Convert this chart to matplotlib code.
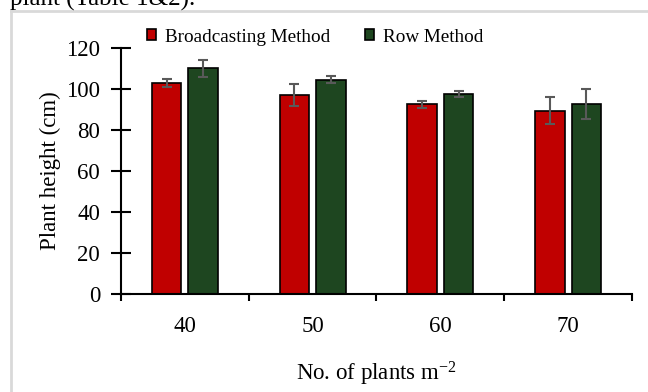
import numpy as np
import matplotlib
matplotlib.use('Agg')
import matplotlib.pyplot as plt
from matplotlib.lines import Line2D
from matplotlib.patches import Patch

plt.rcParams['font.family'] = ['Liberation Serif', 'DejaVu Serif']
plt.rcParams['mathtext.fontset'] = 'custom'
plt.rcParams['mathtext.rm'] = 'Liberation Serif'
plt.rcParams['mathtext.it'] = 'Liberation Serif:italic'

# 每平方米株数
densities = ['40', '50', '60', '70']
# 撒播 / 条播 株高均值及误差
broadcast_height = [103, 97, 92.5, 89.5]
broadcast_err = [2.0, 5.5, 1.7, 6.7]
row_height = [110, 104.5, 97.5, 92.7]
row_err = [4.2, 1.8, 1.3, 7.3]

red = '#C00000'
green = '#1E4620'
err_color = '#595959'

fig = plt.figure(figsize=(6.48, 3.92), dpi=100)
ax = fig.add_axes([0.1867, 0.25, 0.7886, 0.6276])

x = np.arange(len(densities))
w = 0.23
off = 0.143
ekw = dict(ecolor=err_color, elinewidth=1.5, capsize=3.5, capthick=1.5)
ax.bar(x - off, broadcast_height, w, color=red, edgecolor='black', linewidth=1.2,
       yerr=broadcast_err, error_kw=ekw)
ax.bar(x + off, row_height, w, color=green, edgecolor='black', linewidth=1.2,
       yerr=row_err, error_kw=ekw)

ax.set_xlim(-0.5, len(densities) - 0.5)
ax.set_ylim(0, 120)
ax.set_yticks(range(0, 121, 20))
ax.tick_params(axis='y', direction='inout', length=14, width=1.5, labelsize=16.5, pad=8)

# 主刻度放在类别分界处，类别标签用次刻度
ax.set_xticks(np.arange(-0.5, len(densities), 1.0))
ax.set_xticklabels([])
ax.tick_params(axis='x', which='major', direction='out', length=5, width=1.5)
ax.set_xticks(x, minor=True)
ax.set_xticklabels(densities, minor=True)
ax.tick_params(axis='x', which='minor', length=0, labelsize=16.5, pad=16)

for s in ['top', 'right']:
    ax.spines[s].set_visible(False)
ax.spines['left'].set_linewidth(1.5)
ax.spines['bottom'].set_linewidth(1.5)

ax.set_ylabel('Plant height (cm)', fontsize=16.5, labelpad=4)
ax.set_xlabel('No. of plants m$^{-2}$', fontsize=16.5, labelpad=16)

handles = [Patch(facecolor=red, edgecolor='black', linewidth=1.2),
           Patch(facecolor=green, edgecolor='black', linewidth=1.2)]
fig.legend(handles, ['Broadcasting Method', 'Row Method'], loc='center',
           bbox_to_anchor=(0.486, 0.905), ncol=2, frameon=False, fontsize=13.8,
           handlelength=0.5, handleheight=0.5, handletextpad=0.45, columnspacing=1.8)

# 文档截图上方残留的文字和灰色边框
fig.text(0.015, 1 - 6 / 392, 'plant (Table 1&2).', fontsize=18, va='baseline', ha='left')
fig.add_artist(Line2D([11 / 648, 11 / 648], [0, 1 - 11 / 392], color='#D9D9D9', lw=2))
fig.add_artist(Line2D([11 / 648, 1], [1 - 11 / 392, 1 - 11 / 392], color='#D9D9D9', lw=2))

plt.savefig('out.png', dpi=100)
